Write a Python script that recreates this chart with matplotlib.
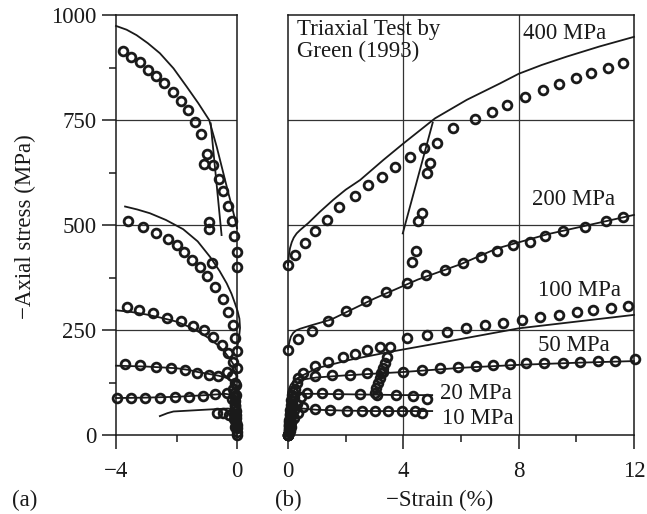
import matplotlib
matplotlib.use("Agg")
import matplotlib.pyplot as plt
from matplotlib.ticker import FixedLocator

plt.rcParams['font.family'] = ['Liberation Serif', 'DejaVu Serif']
plt.rcParams['font.size'] = 16.5

#%% data, stress in MPa, strain in %
# (a) lateral strain, circles = test, lines = model
a400_x = [-3.77, -3.50, -3.21, -2.93, -2.68, -2.40, -2.13, -1.86, -1.63, -1.40, -1.20, -1.00,
          -1.09, -0.78, -0.60, -0.45, -0.29, -0.18, -0.10, -0.01, 0.00]
a400_y = [914, 900, 888, 869, 855, 837, 817, 795, 774, 746, 716, 669,
          645, 643, 609, 581, 546, 510, 474, 436, 400]
a400u_x = [-0.92, -0.92, -0.84]
a400u_y = [506, 490, 409]
m_a400_x = [-4.00, -3.65, -3.32, -2.95, -2.55, -2.10, -1.66, -1.28, -0.92, -0.67, -0.45, -0.30, -0.17, -0.07, 0.00]
m_a400_y = [974, 965, 952, 933, 909, 873, 829, 790, 750, 686, 623, 580, 544, 515, 492]
m_a400u_x = [-0.87, -0.51]
m_a400u_y = [742, 476]

a200_x = [-3.59, -3.12, -2.68, -2.27, -1.99, -1.75, -1.50, -1.22, -0.98, -0.73, -0.47, -0.29, -0.14, -0.07, 0.00]
a200_y = [510, 496, 482, 466, 452, 436, 417, 399, 379, 352, 325, 294, 262, 230, 200]
m_a200_x = [-3.70, -3.30, -2.88, -2.35, -1.78, -1.30, -0.89, -0.58, -0.34, -0.18, -0.07, 0.02, 0.08, 0.10, 0.07, 0.03, 0.00]
m_a200_y = [544, 537, 528, 512, 490, 461, 424, 391, 361, 336, 314, 295, 277, 255, 235, 218, 205]

a100_x = [-3.65, -3.23, -2.79, -2.32, -1.86, -1.44, -1.09, -0.78, -0.49, -0.29, -0.12, 0.00]
a100_y = [305, 298, 290, 279, 271, 259, 250, 234, 214, 195, 175, 159]
m_a100_x = [-4.0, -3.5, -3.0, -2.5, -2.0, -1.6, -1.2, -0.9, -0.6, -0.4, -0.2, -0.08, 0.0]
m_a100_y = [297, 293, 287, 279, 270, 258, 243, 229, 212, 197, 178, 163, 150]

a50_x = [-3.70, -3.21, -2.68, -2.18, -1.72, -1.31, -0.93, -0.62, -0.34, -0.17, -0.05]
a50_y = [168, 167, 163, 160, 155, 148, 143, 141, 150, 140, 125]
m_a50_x = [-4.0, -3.0, -2.0, -1.6, -1.3, -0.9, -0.6, -0.35, -0.2, -0.08, 0.0]
m_a50_y = [165, 163, 159, 155, 150, 145, 141, 136, 130, 122, 115]

a20_x = [-3.98, -3.51, -3.04, -2.55, -2.05, -1.58, -1.11, -0.73, -0.34, -0.15, -0.05]
a20_y = [87, 87, 87, 87, 91, 91, 94, 97, 99, 85, 70]
m_a20_x = [-4.0, -3.0, -2.0, -1.0, -0.4, -0.2, -0.1, -0.04, 0.0]
m_a20_y = [88, 89, 91, 95, 98, 96, 90, 80, 70]

a10_x = [-0.67, -0.45, -0.25, -0.10, -0.03]
a10_y = [52, 53, 48, 38, 25]
m_a10_x = [-2.55, -2.30, -2.10, -1.60, -1.11, -0.60, -0.29, -0.15, -0.06, 0.0]
m_a10_y = [45, 52, 56, 58, 60, 62, 63, 60, 52, 40]

# hydrostatic part, all tests on top of each other
a0_x = [0.0, 0.0, -0.01, -0.01, -0.02, -0.02, -0.03, -0.04, -0.05, -0.06, -0.07, -0.08, -0.10, -0.12,
        -0.05, -0.07, -0.09, -0.04, -0.03]
a0_y = [0, 8, 16, 24, 32, 40, 48, 56, 64, 72, 80, 90, 100, 110,
        20, 35, 50, 95, 120]

# (b) axial strain
b400_x = [0.01, 0.24, 0.59, 0.94, 1.36, 1.78, 2.32, 2.79, 3.25, 3.71, 4.23, 4.72,
          5.16, 5.71, 6.49, 7.07, 7.59, 8.22, 8.86, 9.41, 9.99, 10.51, 11.11, 11.63]
b400_y = [405, 429, 456, 486, 512, 542, 569, 595, 615, 637, 661, 683,
          696, 730, 752, 770, 786, 804, 821, 836, 849, 863, 875, 886]
b400u_x = [4.93, 4.81, 4.64, 4.52, 4.43, 4.29]
b400u_y = [648, 623, 528, 510, 439, 413]
m_b400_x = [0.00, 0.03, 0.07, 0.13, 0.20, 0.30, 0.42, 0.71, 1.10, 1.57, 2.00, 2.50, 3.31, 4.00,
            5.10, 6.20, 7.35, 8.00, 8.80, 9.67, 10.80, 12.0]
m_b400_y = [405, 428, 445, 459, 470, 480, 488, 505, 531, 560, 584, 607, 655, 694,
            754, 798, 837, 860, 881, 901, 925, 948]
m_b400u_x = [5.02, 3.98]
m_b400u_y = [744, 480]

b200_x = [0.01, 0.36, 0.82, 1.40, 2.00, 2.69, 3.40, 4.14, 4.79, 5.45, 6.08, 6.68, 7.24,
          7.81, 8.39, 8.91, 9.55, 10.30, 11.03, 11.61]
b200_y = [202, 228, 248, 272, 296, 320, 341, 361, 381, 394, 410, 423, 439,
          452, 460, 474, 486, 496, 510, 518]
m_b200_x = [0.00, 0.05, 0.10, 0.18, 0.28, 0.42, 0.80, 1.50, 3.00, 4.50, 6.00, 7.24, 9.00, 12.0]
m_b200_y = [205, 222, 234, 243, 249, 253, 261, 275, 325, 370, 407, 444, 478, 524]

b100_x = [0.00, 0.05, 0.10, 0.18, 0.30, 0.53, 0.94, 1.40, 1.90, 2.32, 2.73, 3.19, 3.54,
          4.12, 4.81, 5.50, 6.17, 6.83, 7.47, 8.10, 8.74, 9.41, 10.01, 10.59, 11.19, 11.80]
b100_y = [0, 30, 60, 102, 125, 147, 164, 173, 185, 194, 202, 210, 209,
          230, 238, 246, 254, 262, 267, 275, 280, 286, 294, 298, 302, 306]
b100u_x = [3.42, 3.36, 3.30, 3.24, 3.18, 3.12, 3.06, 3.02]
b100u_y = [185, 172, 160, 148, 136, 124, 111, 99]
m_b100_x = [0.00, 0.04, 0.10, 0.18, 0.25, 0.42, 1.00, 2.15, 3.54, 5.00, 8.01, 12.0]
m_b100_y = [100, 111, 120, 127, 132, 139, 159, 179, 198, 216, 254, 286]

b50_x = [0.00, 0.04, 0.08, 0.15, 0.25, 0.36, 0.94, 1.52, 2.15, 2.73, 3.31, 4.00, 4.64,
         5.27, 5.91, 6.52, 7.12, 7.70, 8.24, 8.88, 9.55, 10.13, 10.74, 11.34, 12.04]
b50_y = [0, 25, 50, 80, 110, 135, 140, 142, 144, 147, 151, 151, 155,
         159, 163, 164, 167, 168, 171, 171, 172, 175, 176, 177, 180]
m_b50_x = [0.00, 0.04, 0.08, 0.14, 0.20, 0.30, 0.40, 0.60, 1.00, 2.00, 4.00, 6.00, 8.00, 10.0, 12.0]
m_b50_y = [0, 30, 60, 88, 105, 120, 128, 133, 137, 142, 150, 160, 167, 172, 176]

b20_x = [0.00, 0.03, 0.06, 0.12, 0.20, 0.30, 0.45, 0.65, 1.17, 1.75, 2.50, 3.08, 3.73, 4.35, 4.81]
b20_y = [0, 15, 30, 45, 60, 75, 90, 100, 99, 98, 97, 96, 95, 94, 85]
m_b20_x = [0.0, 0.05, 0.10, 0.17, 0.25, 0.35, 0.50, 1.0, 2.0, 3.0, 4.0, 5.0]
m_b20_y = [0, 28, 50, 70, 85, 93, 98, 98, 97, 96, 95, 95]

b10_x = [0.00, 0.02, 0.05, 0.10, 0.20, 0.35, 0.53, 0.94, 1.46, 2.04, 2.55, 3.02, 3.48, 3.94, 4.40, 4.64]
b10_y = [0, 10, 20, 30, 40, 52, 67, 63, 60, 57, 56, 56, 56, 56, 56, 53]
m_b10_x = [0.0, 0.05, 0.10, 0.17, 0.25, 0.35, 0.50, 1.0, 2.0, 3.0, 4.0, 5.0]
m_b10_y = [0, 22, 40, 51, 58, 61, 63, 60, 58, 57, 57, 57]

b0_x = [0.0, 0.02, 0.04, 0.05, 0.06, 0.08, 0.10, 0.12, 0.15,
        0.07, 0.11, 0.13, 0.17, 0.20, 0.03, 0.09]
b0_y = [0, 12, 24, 36, 48, 60, 72, 84, 96,
        10, 30, 50, 70, 90, 6, 18]

# labels of the confining pressures in (b): text, x, y
p_labels = ["400 MPa", "200 MPa", "100 MPa", "50 MPa", "20 MPa", "10 MPa"]
p_lab_x = [8.16, 8.45, 8.68, 8.68, 5.27, 5.33]
p_lab_y = [956, 560, 345, 214, 99, 40]

#%% styles
ink = '#1a1a1a'
circ = dict(ls='none', marker='o', ms=6.3, mfc='none', mec=ink, mew=2.0, clip_on=False, zorder=3)
line = dict(color=ink, lw=1.3, clip_on=False, zorder=2)
grid_kw = dict(color='#333333', lw=0.9, zorder=0)

fig = plt.figure(figsize=(6.47, 5.14), dpi=100)
ax1 = fig.add_axes([116/647, 1-435/514, 121/647, 420/514])
ax2 = fig.add_axes([288/647, 1-435/514, 346/647, 420/514])

#%% (a)
for xs, ys in [(m_a400_x, m_a400_y), (m_a400u_x, m_a400u_y), (m_a200_x, m_a200_y),
               (m_a100_x, m_a100_y), (m_a50_x, m_a50_y), (m_a20_x, m_a20_y), (m_a10_x, m_a10_y)]:
    ax1.plot(xs, ys, **line)
for xs, ys in [(a400_x, a400_y), (a400u_x, a400u_y), (a200_x, a200_y), (a100_x, a100_y),
               (a50_x, a50_y), (a20_x, a20_y), (a10_x, a10_y), (a0_x, a0_y)]:
    ax1.plot(xs, ys, **circ)

#%% (b)
for xs, ys in [(m_b400_x, m_b400_y), (m_b400u_x, m_b400u_y), (m_b200_x, m_b200_y),
               (m_b100_x, m_b100_y), (m_b50_x, m_b50_y), (m_b20_x, m_b20_y), (m_b10_x, m_b10_y)]:
    ax2.plot(xs, ys, **line)
for xs, ys in [(b400_x, b400_y), (b400u_x, b400u_y), (b200_x, b200_y), (b100_x, b100_y),
               (b100u_x, b100u_y), (b50_x, b50_y), (b20_x, b20_y), (b10_x, b10_y), (b0_x, b0_y)]:
    ax2.plot(xs, ys, **circ)

for txt, x, y in zip(p_labels, p_lab_x, p_lab_y):
    ax2.text(x, y, txt, ha='left', va='center', color=ink)
ax2.text(0.3, 990, "Triaxial Test by\nGreen (1993)", ha='left', va='top', color=ink, linespacing=1.05)

#%% axes
for ax in (ax1, ax2):
    ax.set_ylim(0, 1000)
    for yv in (250, 500, 750):
        ax.axhline(yv, **grid_kw)
    for sp in ax.spines.values():
        sp.set_linewidth(1.1)
        sp.set_color(ink)
    ax.tick_params(which='major', direction='out', length=10, width=1.1, color=ink, labelcolor=ink)
    ax.tick_params(which='minor', direction='out', length=5, width=1.1, color=ink)
    ax.tick_params(axis='x', which='major', pad=9)

ax1.set_xlim(-4, 0)
ax1.xaxis.set_major_locator(FixedLocator([-4, 0]))
ax1.xaxis.set_minor_locator(FixedLocator([-2]))
ax1.set_xticklabels(['\u22124', '0'])
ax1.yaxis.set_major_locator(FixedLocator([0, 250, 500, 750, 1000]))
ax1.yaxis.set_minor_locator(FixedLocator([125, 375, 625, 875]))
ax1.tick_params(axis='y', which='major', pad=4)

ax2.set_xlim(0, 12)
ax2.xaxis.set_major_locator(FixedLocator([0, 4, 8, 12]))
ax2.xaxis.set_minor_locator(FixedLocator([2, 6, 10]))
for xv in (4, 8):
    ax2.axvline(xv, **grid_kw)
ax2.set_yticks([])

fig.text(25/647, 1-227/514, "\u2212Axial stress (MPa)", rotation=90, ha='center', va='center', color=ink)
fig.text(25/647, 1-500/514, "(a)", ha='center', va='center', color=ink)
fig.text(288/647, 1-500/514, "(b)", ha='center', va='center', color=ink)
fig.text(440/647, 1-500/514, "\u2212Strain (%)", ha='center', va='center', color=ink)

fig.savefig("out.png", dpi=100)
